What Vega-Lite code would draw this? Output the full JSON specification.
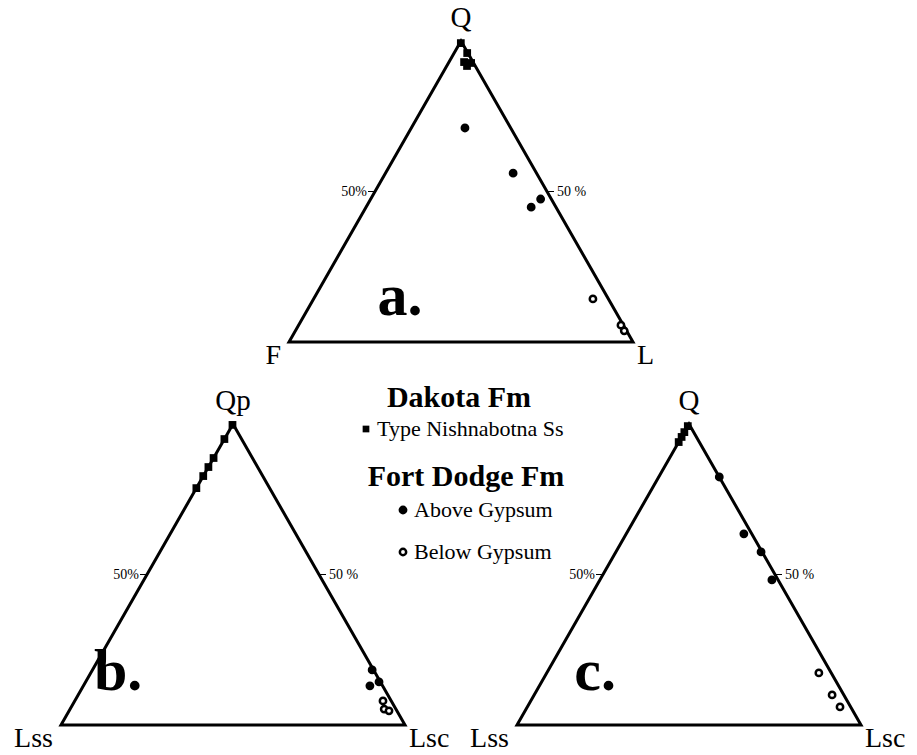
{
  "$schema": "https://vega.github.io/schema/vega-lite/v6.json",
  "width": 917,
  "height": 755,
  "autosize": {"type": "none"},
  "padding": 0,
  "background": "white",
  "config": {"view": {"stroke": null}, "font": "Liberation Serif"},
  "datasets": {
    "tri": [
      {"panel": "a", "k": 0, "apex": 0, "left": 50, "right": 50},
      {"panel": "a", "k": 1, "apex": 0, "left": 0, "right": 100},
      {"panel": "a", "k": 2, "apex": 100, "left": 0, "right": 0},
      {"panel": "a", "k": 3, "apex": 0, "left": 100, "right": 0},
      {"panel": "a", "k": 4, "apex": 0, "left": 50, "right": 50},
      {"panel": "b", "k": 0, "apex": 0, "left": 50, "right": 50},
      {"panel": "b", "k": 1, "apex": 0, "left": 0, "right": 100},
      {"panel": "b", "k": 2, "apex": 100, "left": 0, "right": 0},
      {"panel": "b", "k": 3, "apex": 0, "left": 100, "right": 0},
      {"panel": "b", "k": 4, "apex": 0, "left": 50, "right": 50},
      {"panel": "c", "k": 0, "apex": 0, "left": 50, "right": 50},
      {"panel": "c", "k": 1, "apex": 0, "left": 0, "right": 100},
      {"panel": "c", "k": 2, "apex": 100, "left": 0, "right": 0},
      {"panel": "c", "k": 3, "apex": 0, "left": 100, "right": 0},
      {"panel": "c", "k": 4, "apex": 0, "left": 50, "right": 50}
    ],
    "ticks": [
      {"panel": "a", "side": "L", "label": "50%", "apex": 50, "left": 50, "right": 0},
      {"panel": "a", "side": "R", "label": "50 %", "apex": 50, "left": 0, "right": 50},
      {"panel": "b", "side": "L", "label": "50%", "apex": 50, "left": 50, "right": 0},
      {"panel": "b", "side": "R", "label": "50 %", "apex": 50, "left": 0, "right": 50},
      {"panel": "c", "side": "L", "label": "50%", "apex": 50, "left": 50, "right": 0},
      {"panel": "c", "side": "R", "label": "50 %", "apex": 50, "left": 0, "right": 50}
    ],
    "verts": [
      {"panel": "a", "pos": "top", "label": "Q", "apex": 100, "left": 0, "right": 0},
      {"panel": "a", "pos": "left", "label": "F", "apex": 0, "left": 100, "right": 0},
      {"panel": "a", "pos": "right", "label": "L", "apex": 0, "left": 0, "right": 100},
      {"panel": "b", "pos": "top", "label": "Qp", "apex": 100, "left": 0, "right": 0},
      {"panel": "b", "pos": "left", "label": "Lss", "apex": 0, "left": 100, "right": 0},
      {"panel": "b", "pos": "right", "label": "Lsc", "apex": 0, "left": 0, "right": 100},
      {"panel": "c", "pos": "top", "label": "Q", "apex": 100, "left": 0, "right": 0},
      {"panel": "c", "pos": "left", "label": "Lss", "apex": 0, "left": 100, "right": 0},
      {"panel": "c", "pos": "right", "label": "Lsc", "apex": 0, "left": 0, "right": 100}
    ],
    "letters": [
      {"panel": "a", "label": "a.", "apex": 9.0, "left": 63.2, "right": 27.8},
      {"panel": "b", "label": "b.", "apex": 11.6, "left": 77.6, "right": 10.8},
      {"panel": "c", "label": "c.", "apex": 11.6, "left": 71.5, "right": 16.9}
    ],
    "squares": [
      {"panel": "a", "group": "Type Nishnabotna Ss", "apex": 99.3, "left": 0.4, "right": 0.3},
      {"panel": "a", "group": "Type Nishnabotna Ss", "apex": 96.0, "left": 0.2, "right": 3.8},
      {"panel": "a", "group": "Type Nishnabotna Ss", "apex": 93.0, "left": 2.6, "right": 4.4},
      {"panel": "a", "group": "Type Nishnabotna Ss", "apex": 92.7, "left": 0.7, "right": 6.6},
      {"panel": "a", "group": "Type Nishnabotna Ss", "apex": 91.7, "left": 2.4, "right": 5.9},
      {"panel": "b", "group": "Type Nishnabotna Ss", "apex": 99.7, "left": 0.3, "right": 0},
      {"panel": "b", "group": "Type Nishnabotna Ss", "apex": 95.0, "left": 5.0, "right": 0},
      {"panel": "b", "group": "Type Nishnabotna Ss", "apex": 88.7, "left": 11.3, "right": 0},
      {"panel": "b", "group": "Type Nishnabotna Ss", "apex": 85.7, "left": 14.3, "right": 0},
      {"panel": "b", "group": "Type Nishnabotna Ss", "apex": 82.7, "left": 17.3, "right": 0},
      {"panel": "b", "group": "Type Nishnabotna Ss", "apex": 78.7, "left": 21.3, "right": 0},
      {"panel": "c", "group": "Type Nishnabotna Ss", "apex": 99.3, "left": 0.7, "right": 0},
      {"panel": "c", "group": "Type Nishnabotna Ss", "apex": 97.3, "left": 2.7, "right": 0},
      {"panel": "c", "group": "Type Nishnabotna Ss", "apex": 95.7, "left": 4.3, "right": 0},
      {"panel": "c", "group": "Type Nishnabotna Ss", "apex": 94.0, "left": 6.0, "right": 0}
    ],
    "circles": [
      {"panel": "a", "group": "Above Gypsum", "apex": 71.1, "left": 13.3, "right": 15.6},
      {"panel": "a", "group": "Above Gypsum", "apex": 56.1, "left": 6.8, "right": 37.1},
      {"panel": "a", "group": "Above Gypsum", "apex": 47.5, "left": 3.1, "right": 49.4},
      {"panel": "a", "group": "Above Gypsum", "apex": 44.8, "left": 7.2, "right": 48.0},
      {"panel": "a", "group": "Below Gypsum", "apex": 14.3, "left": 4.5, "right": 81.2},
      {"panel": "a", "group": "Below Gypsum", "apex": 5.6, "left": 0.7, "right": 93.7},
      {"panel": "a", "group": "Below Gypsum", "apex": 3.7, "left": 0.7, "right": 95.6},
      {"panel": "b", "group": "Above Gypsum", "apex": 18.3, "left": 0.4, "right": 81.3},
      {"panel": "b", "group": "Above Gypsum", "apex": 14.3, "left": 0.4, "right": 85.3},
      {"panel": "b", "group": "Above Gypsum", "apex": 13.0, "left": 3.7, "right": 83.3},
      {"panel": "b", "group": "Below Gypsum", "apex": 8.0, "left": 2.4, "right": 89.6},
      {"panel": "b", "group": "Below Gypsum", "apex": 5.3, "left": 3.4, "right": 91.3},
      {"panel": "b", "group": "Below Gypsum", "apex": 4.7, "left": 2.3, "right": 93.0},
      {"panel": "c", "group": "Above Gypsum", "apex": 82.4, "left": 0, "right": 17.6},
      {"panel": "c", "group": "Above Gypsum", "apex": 63.5, "left": 2.3, "right": 34.2},
      {"panel": "c", "group": "Above Gypsum", "apex": 57.5, "left": 0.3, "right": 42.2},
      {"panel": "c", "group": "Above Gypsum", "apex": 48.2, "left": 1.8, "right": 50.0},
      {"panel": "c", "group": "Below Gypsum", "apex": 17.3, "left": 3.6, "right": 79.1},
      {"panel": "c", "group": "Below Gypsum", "apex": 10.0, "left": 3.4, "right": 86.6},
      {"panel": "c", "group": "Below Gypsum", "apex": 6.0, "left": 3.1, "right": 90.9}
    ]
  },
  "layer": [
    {
      "data": {"name": "tri"},
      "transform": [
        {"calculate": "(datum.panel === 'a' ? 289 : datum.panel === 'b' ? 61 : 517) + 3.44 * (datum.right + datum.apex / 2)", "as": "px"},
        {"calculate": "(datum.panel === 'a' ? 342 : 725) - 3.01 * datum.apex", "as": "py"}
      ],
      "mark": {"type": "line", "color": "black", "strokeWidth": 3, "strokeJoin": "miter"},
      "encoding": {
        "x": {"field": "px", "type": "quantitative", "scale": {"domain": [0, 917], "nice": false, "zero": false}, "axis": null},
        "y": {"field": "py", "type": "quantitative", "scale": {"domain": [0, 755], "nice": false, "zero": false, "reverse": true}, "axis": null},
        "detail": {"field": "panel"},
        "order": {"field": "k"}
      }
    },
    {
      "data": {"name": "ticks"},
      "transform": [
        {"calculate": "(datum.panel === 'a' ? 289 : datum.panel === 'b' ? 61 : 517) + 3.44 * (datum.right + datum.apex / 2)", "as": "px"},
        {"calculate": "(datum.panel === 'a' ? 342 : 725) - 3.01 * datum.apex", "as": "py"},
        {"calculate": "datum.px + (datum.side === 'R' ? 7 : -7)", "as": "px2"}
      ],
      "mark": {"type": "rule", "color": "black", "strokeWidth": 1},
      "encoding": {
        "x": {"field": "px", "type": "quantitative"},
        "x2": {"field": "px2"},
        "y": {"field": "py", "type": "quantitative"}
      }
    },
    {
      "data": {"name": "ticks"},
      "transform": [
        {"filter": "datum.side === 'R'"},
        {"calculate": "(datum.panel === 'a' ? 289 : datum.panel === 'b' ? 61 : 517) + 3.44 * (datum.right + datum.apex / 2)", "as": "px"},
        {"calculate": "(datum.panel === 'a' ? 342 : 725) - 3.01 * datum.apex", "as": "py"}
      ],
      "mark": {"type": "text", "align": "left", "baseline": "middle", "dx": 10, "fontSize": 14, "font": "Liberation Serif", "color": "black"},
      "encoding": {
        "x": {"field": "px", "type": "quantitative"},
        "y": {"field": "py", "type": "quantitative"},
        "text": {"field": "label"}
      }
    },
    {
      "data": {"name": "ticks"},
      "transform": [
        {"filter": "datum.side === 'L'"},
        {"calculate": "(datum.panel === 'a' ? 289 : datum.panel === 'b' ? 61 : 517) + 3.44 * (datum.right + datum.apex / 2)", "as": "px"},
        {"calculate": "(datum.panel === 'a' ? 342 : 725) - 3.01 * datum.apex", "as": "py"}
      ],
      "mark": {"type": "text", "align": "right", "baseline": "middle", "dx": -8, "fontSize": 14, "font": "Liberation Serif", "color": "black"},
      "encoding": {
        "x": {"field": "px", "type": "quantitative"},
        "y": {"field": "py", "type": "quantitative"},
        "text": {"field": "label"}
      }
    },
    {
      "data": {"name": "verts"},
      "transform": [
        {"filter": "datum.pos === 'top'"},
        {"calculate": "(datum.panel === 'a' ? 289 : datum.panel === 'b' ? 61 : 517) + 3.44 * (datum.right + datum.apex / 2)", "as": "px"},
        {"calculate": "(datum.panel === 'a' ? 342 : 725) - 3.01 * datum.apex", "as": "py"}
      ],
      "mark": {"type": "text", "align": "center", "baseline": "alphabetic", "dy": -14, "fontSize": 29, "font": "Liberation Serif", "color": "black"},
      "encoding": {
        "x": {"field": "px", "type": "quantitative"},
        "y": {"field": "py", "type": "quantitative"},
        "text": {"field": "label"}
      }
    },
    {
      "data": {"name": "verts"},
      "transform": [
        {"filter": "datum.pos === 'left'"},
        {"calculate": "(datum.panel === 'a' ? 289 : datum.panel === 'b' ? 61 : 517) + 3.44 * (datum.right + datum.apex / 2)", "as": "px"},
        {"calculate": "(datum.panel === 'a' ? 342 : 725) - 3.01 * datum.apex", "as": "py"}
      ],
      "mark": {"type": "text", "align": "right", "baseline": "alphabetic", "dx": -8, "dy": 22, "fontSize": 28, "font": "Liberation Serif", "color": "black"},
      "encoding": {
        "x": {"field": "px", "type": "quantitative"},
        "y": {"field": "py", "type": "quantitative"},
        "text": {"field": "label"}
      }
    },
    {
      "data": {"name": "verts"},
      "transform": [
        {"filter": "datum.pos === 'right'"},
        {"calculate": "(datum.panel === 'a' ? 289 : datum.panel === 'b' ? 61 : 517) + 3.44 * (datum.right + datum.apex / 2)", "as": "px"},
        {"calculate": "(datum.panel === 'a' ? 342 : 725) - 3.01 * datum.apex", "as": "py"}
      ],
      "mark": {"type": "text", "align": "left", "baseline": "alphabetic", "dx": 4, "dy": 22, "fontSize": 28, "font": "Liberation Serif", "color": "black"},
      "encoding": {
        "x": {"field": "px", "type": "quantitative"},
        "y": {"field": "py", "type": "quantitative"},
        "text": {"field": "label"}
      }
    },
    {
      "data": {"name": "letters"},
      "transform": [
        {"calculate": "(datum.panel === 'a' ? 289 : datum.panel === 'b' ? 61 : 517) + 3.44 * (datum.right + datum.apex / 2)", "as": "px"},
        {"calculate": "(datum.panel === 'a' ? 342 : 725) - 3.01 * datum.apex", "as": "py"}
      ],
      "mark": {"type": "text", "align": "center", "baseline": "alphabetic", "fontSize": 60, "fontWeight": "bold", "font": "Liberation Serif", "color": "black"},
      "encoding": {
        "x": {"field": "px", "type": "quantitative"},
        "y": {"field": "py", "type": "quantitative"},
        "text": {"field": "label"}
      }
    },
    {
      "data": {"name": "squares"},
      "transform": [
        {"calculate": "(datum.panel === 'a' ? 289 : datum.panel === 'b' ? 61 : 517) + 3.44 * (datum.right + datum.apex / 2)", "as": "px"},
        {"calculate": "(datum.panel === 'a' ? 342 : 725) - 3.01 * datum.apex", "as": "py"}
      ],
      "mark": {"type": "point", "filled": true, "color": "black", "size": 60, "opacity": 1},
      "encoding": {
        "x": {"field": "px", "type": "quantitative"},
        "y": {"field": "py", "type": "quantitative"},
        "shape": {
          "field": "group",
          "type": "nominal",
          "scale": {"domain": ["Type Nishnabotna Ss"], "range": ["square"]},
          "legend": {
            "title": "Dakota Fm",
            "orient": "none",
            "legendX": 355,
            "legendY": 383,
            "padding": 0,
            "titleAnchor": "middle",
            "titleFont": "Liberation Serif",
            "titleFontSize": 30,
            "titleFontWeight": "bold",
            "titleColor": "black",
            "titlePadding": 5,
            "titleLimit": 400,
            "labelFont": "Liberation Serif",
            "labelFontSize": 22,
            "labelColor": "black",
            "labelOffset": 0,
            "labelLimit": 400,
            "symbolSize": 45,
            "symbolFillColor": "black",
            "symbolStrokeWidth": 0,
            "symbolOpacity": 1
          }
        }
      }
    },
    {
      "data": {"name": "circles"},
      "transform": [
        {"calculate": "(datum.panel === 'a' ? 289 : datum.panel === 'b' ? 61 : 517) + 3.44 * (datum.right + datum.apex / 2)", "as": "px"},
        {"calculate": "(datum.panel === 'a' ? 342 : 725) - 3.01 * datum.apex", "as": "py"}
      ],
      "mark": {"type": "point", "shape": "circle", "filled": true, "stroke": "black", "strokeWidth": 2.5, "size": 40, "opacity": 1},
      "encoding": {
        "x": {"field": "px", "type": "quantitative"},
        "y": {"field": "py", "type": "quantitative"},
        "fill": {
          "field": "group",
          "type": "nominal",
          "scale": {"domain": ["Above Gypsum", "Below Gypsum"], "range": ["black", "white"]},
          "legend": {
            "title": "Fort Dodge Fm",
            "orient": "none",
            "legendX": 368,
            "legendY": 462,
            "padding": 0,
            "titleAnchor": "middle",
            "titleFont": "Liberation Serif",
            "titleFontSize": 30,
            "titleFontWeight": "bold",
            "titleColor": "black",
            "titlePadding": 7,
            "titleLimit": 400,
            "labelFont": "Liberation Serif",
            "labelFontSize": 22,
            "labelColor": "black",
            "labelOffset": 0,
            "labelLimit": 400,
            "rowPadding": 20,
            "symbolOffset": 12,
            "symbolType": "circle",
            "symbolSize": 40,
            "symbolStrokeColor": "black",
            "symbolStrokeWidth": 2.5,
            "symbolOpacity": 1
          }
        }
      }
    }
  ]
}
